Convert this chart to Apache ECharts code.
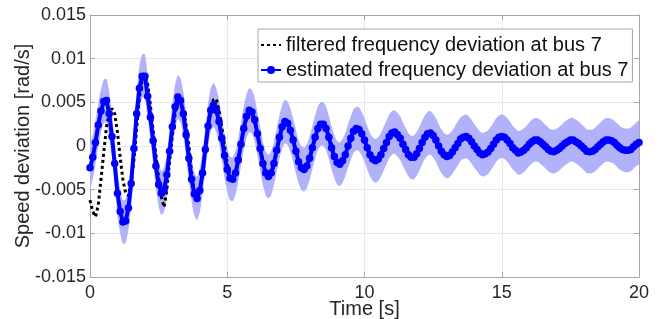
<!DOCTYPE html>
<html>
<head>
<meta charset="utf-8">
<script src="https://cdn.jsdelivr.net/npm/echarts@6/dist/echarts.min.js"></script>
<style>
  html, body { margin: 0; padding: 0; background: #fff; }
  #chart-container { width: 663px; height: 319px; }
</style>
</head>
<body>
<div id="chart-container"></div>
<script>
// sample step of both signals [s]
const timeStep = 0.1;

// estimated frequency deviation at bus 7, t = 0 .. 20 s
const estimated = [
  -0.0025, -0.0013, 0.0004, 0.0024, 0.0040, 0.0051, 0.0052, 0.0037, 0.0011, -0.0020,
  -0.0054, -0.0075, -0.0087, -0.0086, -0.0071, -0.0043, -0.0003, 0.0037, 0.0066, 0.0080,
  0.0080, 0.0057, 0.0033, 0.0006, -0.0023, -0.0044, -0.0054, -0.0050, -0.0033, -0.0006,
  0.0022, 0.0045, 0.0056, 0.0052, 0.0037, 0.0013, -0.0014, -0.0038, -0.0055, -0.0060,
  -0.0051, -0.0031, -0.0004, 0.0023, 0.0041, 0.0047, 0.0041, 0.0028, 0.0009, -0.0011,
  -0.0027, -0.0037, -0.0038, -0.0031, -0.0016, 0.0002, 0.0020, 0.0034, 0.0041, 0.0039,
  0.0030, 0.0014, -0.0003, -0.0020, -0.0031, -0.0035, -0.0031, -0.0020, -0.0005, 0.0010,
  0.0022, 0.0028, 0.0026, 0.0018, 0.0007, -0.0006, -0.0018, -0.0025, -0.0027, -0.0023,
  -0.0014, -0.0002, 0.0010, 0.0020, 0.0025, 0.0025, 0.0020, 0.0010, -0.0002, -0.0012,
  -0.0019, -0.0021, -0.0017, -0.0010, 0.0000, 0.0009, 0.0017, 0.0020, 0.0019, 0.0014,
  0.0007, -0.0002, -0.0010, -0.0015, -0.0017, -0.0015, -0.0010, -0.0003, 0.0004, 0.0011,
  0.0015, 0.0016, 0.0013, 0.0009, 0.0002, -0.0004, -0.0010, -0.0013, -0.0013, -0.0009,
  -0.0003, 0.0004, 0.0010, 0.0014, 0.0015, 0.0012, 0.0007, 0.0000, -0.0006, -0.0010,
  -0.0012, -0.0011, -0.0007, -0.0002, 0.0003, 0.0008, 0.0010, 0.0011, 0.0009, 0.0005,
  0.0000, -0.0004, -0.0008, -0.0010, -0.0009, -0.0007, -0.0003, 0.0002, 0.0007, 0.0010,
  0.0011, 0.0010, 0.0007, 0.0003, -0.0002, -0.0005, -0.0008, -0.0007, -0.0005, -0.0002,
  0.0002, 0.0005, 0.0007, 0.0007, 0.0005, 0.0002, -0.0001, -0.0004, -0.0006, -0.00065,
  -0.0005, -0.0003, 0.0000, 0.0003, 0.0005, 0.0007, 0.0007, 0.0005, 0.0003, 0.0000,
  -0.0003, -0.0006, -0.00065, -0.0006, -0.0004, -0.0001, 0.0002, 0.0005, 0.0007, 0.0007,
  0.0006, 0.0004, 0.0001, -0.0002, -0.0004, -0.0005, -0.0005, -0.0004, -0.0001, 0.0002,
  0.0004
];

// filtered frequency deviation at bus 7, t = 0 .. 10 s
const filtered = [
  -0.0062, -0.0075, -0.0081, -0.0068, -0.0038, -0.0008, 0.0022, 0.0037, 0.0043, 0.0037,
  0.0016, -0.0013, -0.0039, -0.0054, -0.0057, -0.0041, -0.0016, 0.0020, 0.0055, 0.0076,
  0.0081, 0.0071, 0.0047, 0.0018, -0.0010, -0.0036, -0.0058, -0.0070, -0.0050, -0.0017,
  0.0012, 0.0037, 0.0050, 0.0052, 0.0042, 0.0024, 0.0002, -0.0031, -0.0052, -0.0060,
  -0.0053, -0.0033, -0.0003, 0.0025, 0.0045, 0.0053, 0.0054, 0.0040, 0.0022, 0.0000,
  -0.0020, -0.0035, -0.0040, -0.0033, -0.0018, 0.0000, 0.0018, 0.0031, 0.0037, 0.0036,
  0.0029, 0.0015, -0.0002, -0.0018, -0.0030, -0.0035, -0.0032, -0.0022, -0.0007, 0.0008,
  0.0020, 0.0027, 0.0027, 0.0020, 0.0009, -0.0004, -0.0016, -0.0024, -0.0027, -0.0024,
  -0.0016, -0.0004, 0.0008, 0.0018, 0.0024, 0.0025, 0.0021, 0.0012, 0.0001, -0.0010,
  -0.0018, -0.0021, -0.0018, -0.0011, -0.0002, 0.0008, 0.0016, 0.0020, 0.0019, 0.0015,
  0.0008
];

// half width of the shaded band round the estimate
const bandHalfWidth = 0.0025;

const yTicks = [-0.015, -0.01, -0.005, 0, 0.005, 0.01, 0.015];
const yTickLabels = ['-0.015', '-0.01', '-0.005', '0', '0.005', '0.01', '0.015'];

const seriesNames = ['filtered frequency deviation at bus 7', 'estimated frequency deviation at bus 7'];

const withTime = (arr) => arr.map((v, i) => [+(i * timeStep).toFixed(1), v]);

const yLabel = (val) => {
  let best = 0;
  yTicks.forEach((t, i) => { if (Math.abs(t - val) < Math.abs(yTicks[best] - val)) best = i; });
  return yTickLabels[best];
};

const font = 'Liberation Sans, Arial, Helvetica, sans-serif';
const boxColor = '#a6a6a6';
const textColor = '#262626';
const estPoints = withTime(estimated);

const chart = echarts.init(document.getElementById('chart-container'));

// shaded band: polygon through estimate +/- half width, placed with the axis scales
const renderBand = (params, api) => {
  const upper = estPoints.map(p => api.coord([p[0], p[1] + bandHalfWidth]));
  const lower = estPoints.map(p => api.coord([p[0], p[1] - bandHalfWidth])).reverse();
  return {
    type: 'polygon',
    shape: { points: upper.concat(lower), smooth: 0.2 },
    style: { fill: 'rgb(178,178,250)' }
  };
};

const option = {
  animation: false,
  backgroundColor: '#fff',
  textStyle: { fontFamily: font },
  grid: { left: 90, right: 24, top: 15, bottom: 42, show: false, outerBoundsMode: 'none', containLabel: false },
  legend: {
    data: [
      { name: seriesNames[0], itemStyle: { opacity: 0 } },
      { name: seriesNames[1] }
    ],
    orient: 'vertical',
    left: 258,
    top: 29,
    padding: [6, 4, 2, 2],
    itemGap: 5,
    itemWidth: 20,
    itemHeight: 10,
    backgroundColor: '#fff',
    borderColor: boxColor,
    borderWidth: 1,
    borderRadius: 0,
    textStyle: { fontSize: 20, color: '#111', fontFamily: font }
  },
  xAxis: [
    {
      type: 'value',
      min: 0,
      max: 20,
      interval: 5,
      name: 'Time [s]',
      nameLocation: 'middle',
      nameGap: 22,
      nameMoveOverlap: false,
      nameTextStyle: { fontSize: 20, color: textColor, fontFamily: font },
      axisLine: { show: true, onZero: false, lineStyle: { color: boxColor } },
      axisTick: { show: true, inside: true, length: 5, lineStyle: { color: boxColor } },
      axisLabel: { fontSize: 18, color: textColor, margin: 7, fontFamily: font },
      splitLine: { show: true, lineStyle: { color: '#e8e8e8' } }
    },
    {
      type: 'value',
      position: 'top',
      min: 0,
      max: 20,
      interval: 5,
      axisLine: { show: true, onZero: false, lineStyle: { color: boxColor } },
      axisTick: { show: true, inside: true, length: 5, lineStyle: { color: boxColor } },
      axisLabel: { show: false },
      splitLine: { show: false }
    }
  ],
  yAxis: [
    {
      type: 'value',
      min: -0.015,
      max: 0.015,
      interval: 0.005,
      name: 'Speed deviation [rad/s]',
      nameLocation: 'middle',
      nameGap: 57,
      nameMoveOverlap: false,
      nameTextStyle: { fontSize: 20, color: textColor, fontFamily: font },
      axisLine: { show: true, onZero: false, lineStyle: { color: boxColor } },
      axisTick: { show: true, inside: true, length: 5, lineStyle: { color: boxColor } },
      axisLabel: { fontSize: 18, color: textColor, margin: 4, fontFamily: font, formatter: yLabel },
      splitLine: { show: true, lineStyle: { color: '#e8e8e8' } }
    },
    {
      type: 'value',
      position: 'right',
      min: -0.015,
      max: 0.015,
      interval: 0.005,
      axisLine: { show: true, onZero: false, lineStyle: { color: boxColor } },
      axisTick: { show: true, inside: true, length: 5, lineStyle: { color: boxColor } },
      axisLabel: { show: false },
      splitLine: { show: false }
    }
  ],
  series: [
    {
      name: 'band',
      type: 'custom',
      renderItem: renderBand,
      data: [[0, 0]],
      silent: true,
      clip: true,
      z: 1
    },
    {
      name: seriesNames[0],
      type: 'line',
      data: withTime(filtered),
      symbol: 'circle',
      showSymbol: false,
      lineStyle: { color: '#000', width: 3, type: [3, 3], cap: 'butt' },
      itemStyle: { color: '#000' },
      z: 2
    },
    {
      name: seriesNames[1],
      type: 'line',
      data: estPoints,
      symbol: 'circle',
      symbolSize: 7,
      showSymbol: false,
      lineStyle: { color: '#0000ff', width: 4 },
      itemStyle: { color: '#0000ff' },
      z: 3
    },
    {
      name: seriesNames[1],
      type: 'scatter',
      data: estPoints,
      symbol: 'circle',
      symbolSize: 7.5,
      itemStyle: { color: '#0000ff', opacity: 1 },
      z: 4
    }
  ]
};

chart.setOption(option);
</script>
</body>
</html>
